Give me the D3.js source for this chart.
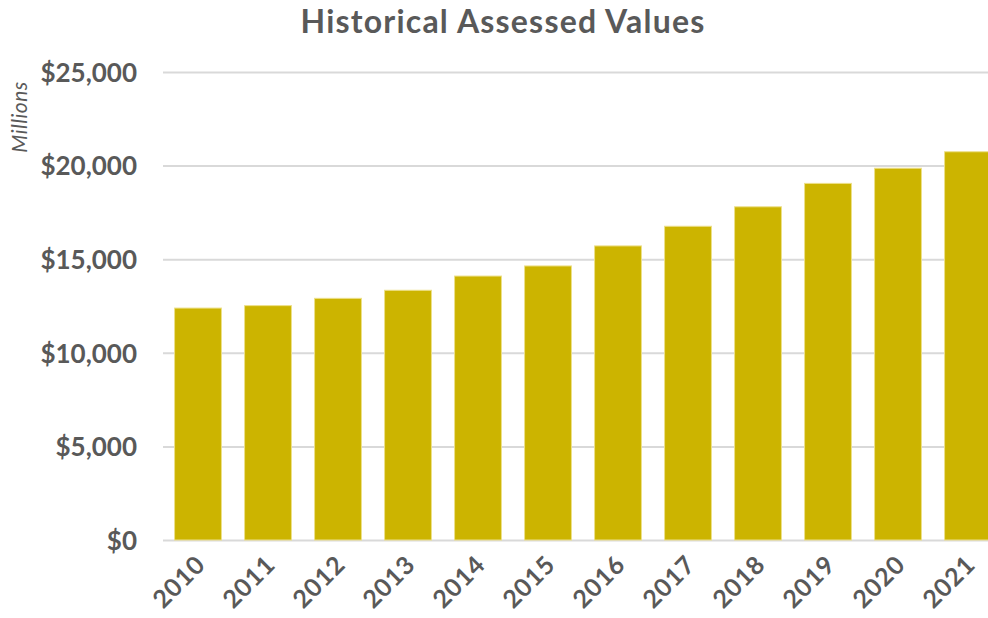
<!DOCTYPE html>
<html>
<head>
<meta charset="utf-8">
<script src="https://cdn.jsdelivr.net/npm/d3@7"></script>
<style>
  html, body { margin: 0; padding: 0; background: #fff; }
  svg { display: block; }
</style>
</head>
<body>
<svg id="chart" width="988" height="618"></svg>
<script>
const years = ["2010","2011","2012","2013","2014","2015","2016","2017","2018","2019","2020","2021"];
const values = [12390, 12520, 12910, 13340, 14100, 14640, 15710, 16760, 17800, 19050, 19860, 20740];
const yTicks = [0, 5000, 10000, 15000, 20000, 25000];
const title = "Historical Assessed Values";
const unitLabel = "Millions";

const svg = d3.select("#chart");
const W = 988, H = 618;
const m = { left: 163, right: -15, top: 72, bottom: 78 };
const textColor = "#595959";
const font = "Lato, 'Open Sans', sans-serif";

const x = d3.scaleBand().domain(years).range([m.left, W - m.right]).paddingInner(0.33).paddingOuter(0.165);
const y = d3.scaleLinear().domain([0, 25000]).range([H - m.bottom, m.top]);

// gridlines
const grid = svg.append("g")
  .attr("transform", `translate(${m.left},0)`)
  .call(d3.axisLeft(y).tickValues(yTicks).tickSize(-(W - m.left)).tickFormat(""));
grid.select(".domain").remove();
grid.selectAll("line").attr("stroke", "#d9d9d9").attr("stroke-width", 2);

// bars
svg.append("g").selectAll("rect").data(years).join("rect")
  .attr("x", d => x(d))
  .attr("width", x.bandwidth())
  .attr("y", (d, i) => y(values[i]))
  .attr("height", (d, i) => y(0) - y(values[i]))
  .attr("fill", "#ccb400")
  .attr("stroke", "#ede08a")
  .attr("stroke-width", 1);

// y axis labels
const yAxis = svg.append("g")
  .attr("transform", `translate(${m.left - 26},0)`)
  .call(d3.axisLeft(y).tickValues(yTicks).tickSize(0).tickPadding(0).tickFormat(d => "$" + d3.format(",")(d)));
yAxis.select(".domain").remove();
yAxis.selectAll("text")
  .attr("fill", textColor)
  .style("font-family", font)
  .style("font-weight", "bold")
  .style("font-size", "26px")
  .attr("dy", "0.36em");

// x axis labels
const xAxis = svg.append("g")
  .attr("transform", `translate(0,${H - m.bottom})`)
  .call(d3.axisBottom(x).tickSize(0).tickPadding(0));
xAxis.select(".domain").remove();
xAxis.selectAll("text")
  .attr("fill", textColor)
  .style("font-family", font)
  .style("font-weight", "bold")
  .style("font-size", "25px")
  .style("letter-spacing", "1px")
  .attr("text-anchor", "end")
  .attr("dy", null)
  .attr("y", 0)
  .attr("transform", "translate(9,26) rotate(-45)");

// title
svg.append("text")
  .attr("x", 503).attr("y", 33)
  .attr("text-anchor", "middle")
  .attr("fill", textColor)
  .style("font-family", font)
  .style("font-weight", "bold")
  .style("font-size", "32px")
  .style("letter-spacing", "1.2px")
  .text(title);

// unit label
svg.append("text")
  .attr("transform", "translate(27,117) rotate(-90)")
  .attr("text-anchor", "middle")
  .attr("fill", textColor)
  .style("font-family", font)
  .style("font-style", "italic")
  .style("font-size", "21px")
  .style("letter-spacing", "0.5px")
  .text(unitLabel);
</script>
</body>
</html>
